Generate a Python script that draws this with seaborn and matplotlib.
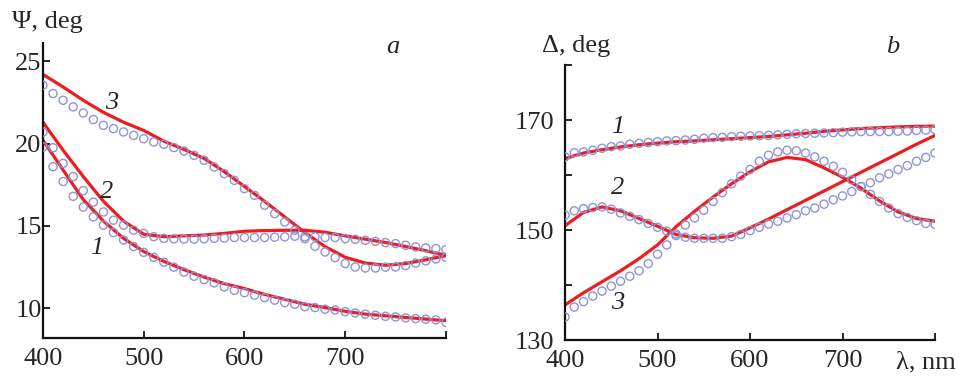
import matplotlib
matplotlib.use("Agg")
import matplotlib.pyplot as plt
import seaborn as sns

# wavelength grids (nm): measured points every 10 nm, fitted curves every 20 nm
lam_pts = [400, 410, 420, 430, 440, 450, 460, 470, 480, 490, 500, 510, 520, 530,
           540, 550, 560, 570, 580, 590, 600, 610, 620, 630, 640, 650, 660, 670,
           680, 690, 700, 710, 720, 730, 740, 750, 760, 770, 780, 790, 800]
lam_fit = [400, 420, 440, 460, 480, 500, 520, 540, 560, 580, 600,
           620, 640, 660, 680, 700, 720, 740, 760, 780, 800]

# panel a: Psi, deg (measured)
psi1_pts = [19.8, 18.6, 17.7, 16.8, 16.15, 15.55, 15.05, 14.6, 14.15, 13.75, 13.4,
            13.1, 12.8, 12.5, 12.2, 11.95, 11.75, 11.55, 11.3, 11.1, 10.95, 10.8,
            10.65, 10.5, 10.35, 10.25, 10.1, 10.05, 9.95, 9.9, 9.8, 9.72, 9.65,
            9.58, 9.52, 9.48, 9.42, 9.38, 9.34, 9.3, 9.15]
psi2_pts = [20.7, 19.75, 18.8, 18.0, 17.15, 16.45, 15.85, 15.35, 15.05, 14.75, 14.55,
            14.35, 14.25, 14.22, 14.2, 14.2, 14.22, 14.25, 14.27, 14.3, 14.3, 14.3,
            14.3, 14.32, 14.34, 14.38, 14.34, 14.34, 14.3, 14.3, 14.23, 14.19, 14.13,
            14.07, 13.99, 13.93, 13.83, 13.73, 13.67, 13.63, 13.57]
psi3_pts = [23.54, 23.04, 22.63, 22.23, 21.86, 21.46, 21.11, 20.91, 20.71, 20.5, 20.3,
            20.1, 19.96, 19.76, 19.55, 19.29, 18.99, 18.58, 18.18, 17.77, 17.27, 16.86,
            16.26, 15.75, 15.24, 14.74, 14.23, 13.77, 13.42, 13.08, 12.72, 12.51, 12.45,
            12.45, 12.5, 12.51, 12.6, 12.75, 12.88, 13.0, 13.1]
# panel a: Psi, deg (calculated)
psi1_fit = [20.2, 18.4, 16.6, 15.3, 14.25, 13.45, 12.85, 12.35, 11.9, 11.5, 11.2,
            10.85, 10.55, 10.25, 10.05, 9.82, 9.65, 9.55, 9.45, 9.35, 9.25]
psi2_fit = [21.3, 19.6, 18.0, 16.5, 15.3, 14.5, 14.35, 14.4, 14.45, 14.55, 14.68,
            14.72, 14.74, 14.74, 14.62, 14.4, 14.2, 14.0, 13.75, 13.5, 13.22]
psi3_fit = [24.2, 23.44, 22.63, 21.9, 21.3, 20.8, 20.15, 19.65, 19.1, 18.3, 17.4,
            16.5, 15.55, 14.6, 13.75, 13.1, 12.75, 12.62, 12.72, 12.95, 13.2]

# panel b: Delta, deg (measured)
del1_pts = [163.3, 164.06, 164.2, 164.5, 164.85, 165.15, 165.3, 165.6, 165.75, 165.9,
            166.06, 166.2, 166.25, 166.36, 166.5, 166.7, 166.8, 166.85, 166.97, 167.05,
            167.1, 167.15, 167.2, 167.3, 167.4, 167.5, 167.55, 167.6, 167.65, 167.7,
            167.8, 167.85, 167.9, 167.9, 167.9, 167.9, 167.95, 168.0, 168.1, 168.15, 168.25]
del2_pts = [152.7, 153.5, 153.9, 154.1, 154.2, 153.8, 153.1, 152.5, 151.9, 151.2, 150.5,
            149.8, 149.0, 148.7, 148.5, 148.5, 148.5, 148.5, 148.8, 149.2, 149.9, 150.5,
            151.1, 151.6, 152.2, 152.8, 153.5, 154.0, 154.7, 155.5, 156.2, 157.0, 157.9,
            158.6, 159.5, 160.2, 161.0, 161.7, 162.5, 163.2, 164.0]
del3_pts = [134.2, 136.0, 137.0, 138.0, 138.9, 139.8, 140.7, 141.6, 142.6, 143.9, 145.6,
            147.3, 149.3, 150.9, 152.2, 153.6, 155.2, 156.8, 158.4, 159.8, 161.0, 162.5,
            163.6, 164.2, 164.5, 164.4, 164.0, 163.3, 162.5, 161.6, 160.5, 159.1, 157.9,
            156.5, 155.2, 154.0, 153.0, 152.3, 151.7, 151.2, 151.0]
# panel b: Delta, deg (calculated)
del1_fit = [163.0, 164.0, 164.6, 165.1, 165.5, 165.8, 166.05, 166.2, 166.4, 166.6, 166.8,
            167.0, 167.3, 167.6, 167.95, 168.2, 168.45, 168.6, 168.75, 168.85, 168.9]
del2_fit = [150.8, 153.2, 154.2, 153.5, 152.1, 150.7, 149.2, 148.6, 148.5, 148.9, 150.4,
            152.0, 153.7, 155.4, 157.1, 158.8, 160.5, 162.2, 163.9, 165.6, 167.2]
del3_fit = [136.4, 138.6, 140.6, 142.6, 144.8, 147.3, 150.6, 153.4, 156.0, 158.4, 160.6,
            162.4, 163.2, 162.8, 161.3, 159.6, 157.6, 155.3, 153.3, 152.1, 151.6]

sns.set_style("ticks")
plt.rcParams["font.family"] = ["Liberation Serif", "DejaVu Serif"]

RED = "#ee1c1c"
DOT = "#8f94d8"
FS = 19

fig = plt.figure(figsize=(9.59, 3.8), dpi=100)
ax_a = fig.add_axes([0.0448, 0.1105, 0.4202, 0.776])
ax_b = fig.add_axes([0.5892, 0.105, 0.3858, 0.724])


def draw_panel(ax, pts, fits):
    for fit in fits:
        sns.lineplot(x=lam_fit, y=fit, ax=ax, color=RED, linewidth=2.3, zorder=2)
    for p in pts:
        sns.scatterplot(x=lam_pts, y=p, ax=ax, marker="o", s=34, facecolors="none",
                        edgecolor=DOT, linewidth=1.0, zorder=3)
    sns.despine(ax=ax)
    for sp in ["left", "bottom"]:
        ax.spines[sp].set_linewidth(1.6)
        ax.spines[sp].set_color("#111111")
    ax.tick_params(direction="in", length=5, width=1.4, labelsize=FS)
    ax.tick_params(axis="x", pad=7)
    ax.set_xlim(400, 800)
    ax.set_xticks([400, 500, 600, 700, 800])
    ax.set_xticklabels(["400", "500", "600", "700", ""])


draw_panel(ax_a, [psi1_pts, psi2_pts, psi3_pts], [psi1_fit, psi2_fit, psi3_fit])
ax_a.set_ylim(8.2, 26.1)
ax_a.set_yticks([10, 15, 20, 25])
ax_a.set_yticklabels(["10", "15", "20", "25"])
ax_a.tick_params(axis="y", pad=1)

draw_panel(ax_b, [del1_pts, del2_pts, del3_pts], [del1_fit, del2_fit, del3_fit])
ax_b.set_ylim(130, 180)
ax_b.set_yticks([130, 140, 150, 160, 170, 180])
ax_b.set_yticklabels(["130", "", "150", "", "170", ""])
ax_b.tick_params(axis="y", pad=8)

# curve numbers
for x, y, s in [(468, 22.45, "3"), (463, 17.05, "2"), (453, 13.65, "1")]:
    ax_a.text(x, y, s, fontsize=FS, style="italic", ha="center", va="center")
for x, y, s in [(457, 168.8, "1"), (457, 157.6, "2"), (457, 136.7, "3")]:
    ax_b.text(x, y, s, fontsize=FS, style="italic", ha="center", va="center")

# panel letters and axis titles
fig.text(393 / 959, 1 - 47 / 380, "a", fontsize=FS, style="italic", ha="center", va="center")
fig.text(893 / 959, 1 - 47 / 380, "b", fontsize=FS, style="italic", ha="center", va="center")
fig.text(12 / 959, 1 - 22 / 380, "Ψ, deg", fontsize=FS, ha="left", va="center")
fig.text(542 / 959, 1 - 46 / 380, "Δ, deg", fontsize=FS, ha="left", va="center")
fig.text(956 / 959, 1 - 362 / 380, "λ, nm", fontsize=FS, ha="right", va="center")

fig.savefig("out.png", dpi=100)
